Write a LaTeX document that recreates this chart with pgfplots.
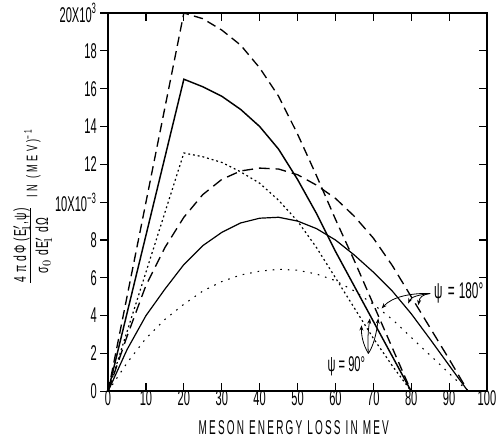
\documentclass[border=0pt]{standalone}
\usepackage{fontspec}
\usepackage{pgfplots}
\pgfplotsset{compat=1.18}
\usetikzlibrary{arrows.meta}
\newfontfamily\cond{Liberation Sans}[FakeStretch=0.52]
\newfontfamily\condsp{Liberation Sans}[FakeStretch=0.5,LetterSpace=11]
\newfontfamily\fracf{Liberation Sans}[FakeStretch=0.6,LetterSpace=8]
\newfontfamily\wide{Liberation Sans}[FakeStretch=0.6,LetterSpace=22]

% psi = 90 deg
\pgfplotstableread{
x y
0 0
20 20
25 19.7
30 19.1
35 18.3
40 17.1
45 15.6
50 13.6
55 11.4
60 9.1
65 6.9
70 4.6
75 2.3
80 0
}\upperdashed
\pgfplotstableread{
x y
0 0
20 16.5
25 16.1
30 15.6
35 14.9
40 14.0
45 12.8
50 11.2
55 9.4
60 7.4
65 5.55
70 3.7
75 1.85
80 0
}\uppersolid
\pgfplotstableread{
x y
0 0
20 12.6
25 12.4
30 12.1
35 11.6
40 11.0
45 10.1
50 9.0
55 7.6
60 6.0
65 4.4
70 2.8
75 1.35
80 0
}\upperdotted
% psi = 180 deg
\pgfplotstableread{
x y
0 0
5 2.9
10 5.6
15 7.6
20 9.2
25 10.4
30 11.2
35 11.65
40 11.8
45 11.75
50 11.45
55 10.9
60 10.2
65 9.25
70 8.1
75 6.65
80 5.0
85 3.35
90 1.7
95 0
}\lowerdashed
\pgfplotstableread{
x y
0 0
5 2.2
10 4.0
15 5.4
20 6.7
25 7.7
30 8.4
35 8.9
40 9.15
45 9.2
50 9.0
55 8.6
60 8.0
65 7.2
70 6.3
75 5.3
80 4.1
85 2.75
90 1.37
95 0
}\lowersolid
\pgfplotstableread{
x y
0 0
5 1.5
10 2.8
15 3.8
20 4.6
25 5.3
30 5.8
35 6.15
40 6.35
45 6.45
50 6.4
55 6.2
60 5.85
65 5.3
70 4.6
75 3.8
80 2.85
85 1.9
90 0.95
95 0
}\lowerdotted

\begin{document}
\begin{tikzpicture}
\useasboundingbox (-81pt,-36.75pt) rectangle (293pt,293.25pt);
\pgfplotsset{
  common/.style={
    at={(0,0)}, anchor=south west,
    scale only axis, width=284pt, height=283.5pt,
    xmin=0, xmax=100, ymin=0, ymax=20,
    xtick={0,10,...,100}, ytick={0,2,...,20},
    major tick length=6pt,
    axis line style={line width=1.3pt},
    tick style={line width=0.9pt, black},
    ticklabel style={font=\cond\fontsize{16}{16}\selectfont},
    /pgf/number format/assume math mode=true,
  }
}
\begin{axis}[common,
    xtick pos=both, ytick pos=right, yticklabels={},
    tick align=inside,
    xticklabel style={yshift=1.5pt, inner sep=1pt},
    xlabel={\condsp\fontsize{15}{15}\selectfont MESON ENERGY LOSS IN MEV},
    xlabel style={at={(rel axis cs:0.49,0)}, anchor=center, yshift=-27pt, inner sep=0pt},
]
\addplot[black, line width=1pt, dash pattern=on 7pt off 4pt] table {\upperdashed};
\addplot[black, line width=1.1pt] table {\uppersolid};
\addplot[black, line width=0.9pt, dash pattern=on 1.4pt off 2.2pt] table {\upperdotted};
\addplot[black, line width=1pt, dash pattern=on 8pt off 4.5pt] table {\lowerdashed};
\addplot[black, line width=0.9pt] table {\lowersolid};
\addplot[black, line width=0.8pt, dash pattern=on 1.2pt off 4.5pt] table {\lowerdotted};

\node[font=\cond\fontsize{16}{16}\selectfont] at (axis cs:62.9,1.32) {ψ = 90°};
\node[font=\cond\fontsize{17}{17}\selectfont, anchor=west, inner sep=0pt] at (axis cs:86.0,5.2) {ψ\hspace{4pt}=\hspace{3pt}180°};

\draw[-{Stealth[length=4pt]}, line width=0.6pt] (axis cs:85,5.17) .. controls (axis cs:80,5.2) and (axis cs:75,5.0) .. (axis cs:72.2,4.38);
\draw[-{Stealth[length=4pt]}, line width=0.6pt] (axis cs:85,5.17) .. controls (axis cs:82,5.1) and (axis cs:80,5.0) .. (axis cs:79.2,4.64);
\draw[-{Stealth[length=4pt]}, line width=0.6pt] (axis cs:85,5.17) .. controls (axis cs:83,5.1) and (axis cs:82.2,5.0) .. (axis cs:81.9,4.55);

\draw[-{Stealth[length=4pt]}, line width=0.6pt] (axis cs:68.7,2.0) .. controls (axis cs:67.2,2.5) and (axis cs:66.8,3.0) .. (axis cs:66.9,3.49);
\draw[-{Stealth[length=4pt]}, line width=0.6pt] (axis cs:68.7,2.0) .. controls (axis cs:68.4,2.7) and (axis cs:68.7,3.3) .. (axis cs:69.1,3.85);
\draw[-{Stealth[length=4pt]}, line width=0.6pt] (axis cs:68.7,2.0) .. controls (axis cs:70.0,2.4) and (axis cs:70.8,3.0) .. (axis cs:71.3,3.85);
\end{axis}

\begin{axis}[common,
    hide x axis,
    ytick pos=left, tick align=outside,
    yticklabels={0,2,4,6,8,{10X10\textsuperscript{−3}},12,14,16,18,{20X10\textsuperscript{3}}},
    yticklabel style={xshift=1pt},
]
\end{axis}

\node[rotate=90, inner sep=0pt] at (-56pt,139pt)
  {\fracf\fontsize{13}{14}\selectfont\begin{tabular}{@{}c@{}}4 π dΦ (E$'_{\!1}$,ψ)\\[-1pt]\hline\rule{0pt}{13pt}σ$_0$ dE$'_{\!1}$ dΩ\end{tabular}\hspace{8pt}{\wide\fontsize{11.5}{12}\selectfont IN (MEV)\textsuperscript{−1}}};
\end{tikzpicture}
\end{document}
